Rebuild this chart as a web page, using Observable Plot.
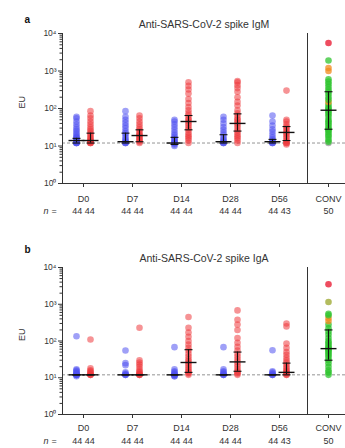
<!DOCTYPE html>
<html><head><meta charset="utf-8">
<script src="https://cdn.jsdelivr.net/npm/d3@7"></script>
<script src="https://cdn.jsdelivr.net/npm/@observablehq/plot@0.6"></script>
<style>
body{margin:0;background:#fff;font-family:"Liberation Sans",Arial,sans-serif}
svg{display:block}
</style>
</head><body><div id="chart"></div>
<script>
const days = ["D0","D7","D14","D28","D56","CONV"];
const nLabels = ["44 44","44 44","44 44","44 44","44 43","50"];
const lloq = 12;
const yTicks = [1,10,100,1000,10000];
const yTickLabels = ["10⁰","10¹","10²","10³","10⁴"];

// ---- Panel a: IgM ----
const igmBlue = [
  [12,12,12,12,13,13,14,15,16,17,18,20,22,25,28,32,38,45,55,60],
  [12,12,12,13,14,15,17,20,22,25,30,35,42,50,60,85],
  [10,11,12,12,12,13,14,15,16,18,20,23,27,32,38,45,50],
  [12,12,12,13,14,15,17,20,23,27,32,40,50,60],
  [12,12,12,13,14,15,17,20,24,28,35,45,65]
];
const igmRed = [
  [12,12,12,13,13,14,15,16,18,20,22,25,28,32,38,45,55,65,85],
  [12,13,14,15,16,18,19,20,22,25,28,32,38,45,55,65],
  [12,14,16,18,20,23,27,30,35,40,45,50,55,65,75,90,110,140,180,250,320,400,500],
  [12,14,16,18,20,23,26,30,35,40,45,50,55,65,75,90,120,150,200,280,350,420,500,540],
  [11,12,12,13,14,16,18,20,22,24,27,30,33,38,45,50,300]
];
const igmConv = [12,13,15,18,20,23,26,28,30,35,40,45,50,60,70,80,90,100,110,130,150,170,200,240,280,320,380,450,520,600,1000,1200,1900,5600];
const igmConvGroup = ["g","c","c","c","c","c","c","c","c","c","c","c","c","c","c","c","c","c","c","c","o","c","c","c","c","c","c","c","c","c","o","o","c","r"];
const igmBlueMed = [14,13,12,13,13], igmBlueQ1 = [12,12,11,12,12], igmBlueQ3 = [16,22,17,20,15];
const igmRedMed = [14,19,45,40,23], igmRedQ1 = [12,13,27,25,14], igmRedQ3 = [22,27,65,72,33];
const igmConvStats = [90,28,280];

// ---- Panel b: IgA ----
const igaBlue = [
  [11,12,12,12,12,13,13,14,15,16,17,135],
  [12,12,12,13,14,22,25,55],
  [11,11,12,12,12,13,14,15,17,68],
  [12,12,12,13,14,15,17,68],
  [12,12,12,13,14,15,56]
];
const igaRed = [
  [12,12,12,13,14,15,16,18,110],
  [12,12,12,13,14,15,17,20,23,26,30,230],
  [12,13,14,15,17,19,22,25,28,32,38,45,55,65,80,100,130,170,230,450],
  [12,13,14,15,17,20,23,27,32,38,45,55,70,90,120,200,280,380,680],
  [12,12,13,14,15,16,18,20,23,26,30,35,42,50,65,85,250,300]
];
const igaConv = [12,14,16,20,25,30,35,40,45,50,55,60,65,70,80,90,100,120,150,180,220,280,350,420,500,550,1150,3500];
const igaConvGroup = ["c","c","c","c","c","c","c","c","c","c","c","c","c","c","c","c","c","c","c","c","c","c","o","o","c","c","y","r"];
const igaBlueMed = [12,12,12,12,12], igaBlueQ1 = [12,12,12,12,12], igaBlueQ3 = [12,12,12,12,12];
const igaRedMed = [12,12,26,27,14], igaRedQ1 = [12,12,14,15,12], igaRedQ3 = [12,12,58,50,25];
const igaConvStats = [62,30,200];

const convColors = {c:"#2fc42f", g:"#9a9a9a", o:"#f08a1c", r:"#e8102a", y:"#9aa52a"};
const minorTicks = d3.range(0,4).flatMap(k => d3.range(2,10).map(m => m*10**k));
const hline = {draw(ctx, size){const w = Math.sqrt(size/Math.PI); ctx.moveTo(-w,0); ctx.lineTo(w,0);}};

function tidy(groups){ return groups.flatMap((vals,i)=>vals.map(v=>({day:days[i], v}))); }
function stats(med,q1,q3){ return med.map((m,i)=>({day:days[i], med:m, q1:q1[i], q3:q3[i]})); }

function panel({letter,title,blue,red,conv,convGroup,bMed,bQ1,bQ3,rMed,rQ1,rQ3,cStats,height,mTop,mBottom,tickPad,nDy,letterDy}){
  const blueData = tidy(blue), redData = tidy(red);
  const convData = conv.map((v,i)=>({day:"CONV", v, g:convGroup[i]}));
  const bS = stats(bMed,bQ1,bQ3), rS = stats(rMed,rQ1,rQ3);
  const cS = [{day:"CONV", med:cStats[0], q1:cStats[1], q3:cStats[2]}];
  const off = 7;
  const errMarks = (S, dx) => [
    Plot.ruleX(S, {x:"day", y1:"q1", y2:"q3", dx, stroke:"#111", strokeWidth:1.1}),
    Plot.dot(S, {x:"day", y:"q1", dx, symbol:hline, r:4, stroke:"#111", fill:"none", strokeWidth:1.1}),
    Plot.dot(S, {x:"day", y:"q3", dx, symbol:hline, r:4, stroke:"#111", fill:"none", strokeWidth:1.1}),
    Plot.dot(S, {x:"day", y:"med", dx, symbol:hline, r:8, stroke:"#111", fill:"none", strokeWidth:1.4})
  ];
  return Plot.plot({
    width:345, height, marginTop:mTop, marginBottom:mBottom, marginLeft:62, marginRight:0,
    style:{fontFamily:"Liberation Sans, Arial, sans-serif", fontSize:"9px", color:"#333", background:"#fff"},
    x:{type:"point", domain:days, padding:0, insetLeft:20, insetRight:17},
    y:{type:"log", domain:[1,10000]},
    marks:[
      Plot.ruleY([lloq], {stroke:"#888", strokeDasharray:"3,2", strokeWidth:0.9}),
      Plot.ruleX(["CONV"], {dx:-21, stroke:"#333", strokeWidth:1}),
      Plot.dot(blueData, {x:"day", y:"v", dx:-off, r:3.3, fill:"#5052f0", fillOpacity:0.55}),
      Plot.dot(redData, {x:"day", y:"v", dx:off, r:3.3, fill:"#ef3a3e", fillOpacity:0.55}),
      Plot.dot(convData, {x:"day", y:"v", r:3.3, fill:d=>convColors[d.g], fillOpacity:0.75}),
      ...errMarks(bS, -off), ...errMarks(rS, off), ...errMarks(cS, 0),
      Plot.frame({anchor:"left", stroke:"#333"}),
      Plot.frame({anchor:"bottom", stroke:"#333"}),
      Plot.axisY(minorTicks, {tickSize:2.5, tickFormat:()=>"", label:null, stroke:"#333"}),
      Plot.axisY(yTicks, {tickSize:4, tickPadding:2, tickFormat:d=>yTickLabels[yTicks.indexOf(d)], label:null, fontSize:8.5}),
      Plot.axisX({tickSize:4, tickPadding:tickPad, label:null, fontSize:9}),
      Plot.text(days, {x:d=>d, text:(d,i)=>nLabels[i], frameAnchor:"bottom", dy:nDy, fontSize:9}),
      Plot.text(["n"], {frameAnchor:"bottom-left", dx:-19, dy:nDy, fontSize:9, fontStyle:"italic"}),
      Plot.text(["="], {frameAnchor:"bottom-left", dx:-11, dy:nDy, fontSize:9}),
      Plot.text(["EU"], {frameAnchor:"left", dx:-40, rotate:-90, fontSize:9}),
      Plot.text([title], {frameAnchor:"top", dy:-13, fontSize:10.5}),
      Plot.text([letter], {frameAnchor:"top-left", dx:-38, dy:letterDy, fontSize:10, fontWeight:"bold", fill:"#111"})
    ]
  });
}

const el = document.getElementById("chart");
el.append(panel({letter:"a", title:"Anti-SARS-CoV-2 spike IgM", blue:igmBlue, red:igmRed, conv:igmConv, convGroup:igmConvGroup,
  bMed:igmBlueMed,bQ1:igmBlueQ1,bQ3:igmBlueQ3,rMed:igmRedMed,rQ1:igmRedQ1,rQ3:igmRedQ3,cStats:igmConvStats,
  height:222, mTop:33, mBottom:39, tickPad:8, nDy:30, letterDy:-18}));
el.append(panel({letter:"b", title:"Anti-SARS-CoV-2 spike IgA", blue:igaBlue, red:igaRed, conv:igaConv, convGroup:igaConvGroup,
  bMed:igaBlueMed,bQ1:igaBlueQ1,bQ3:igaBlueQ3,rMed:igaRedMed,rQ1:igaRedQ1,rQ3:igaRedQ3,cStats:igaConvStats,
  height:226, mTop:45, mBottom:34, tickPad:6, nDy:29, letterDy:-22}));
</script>
</body></html>
